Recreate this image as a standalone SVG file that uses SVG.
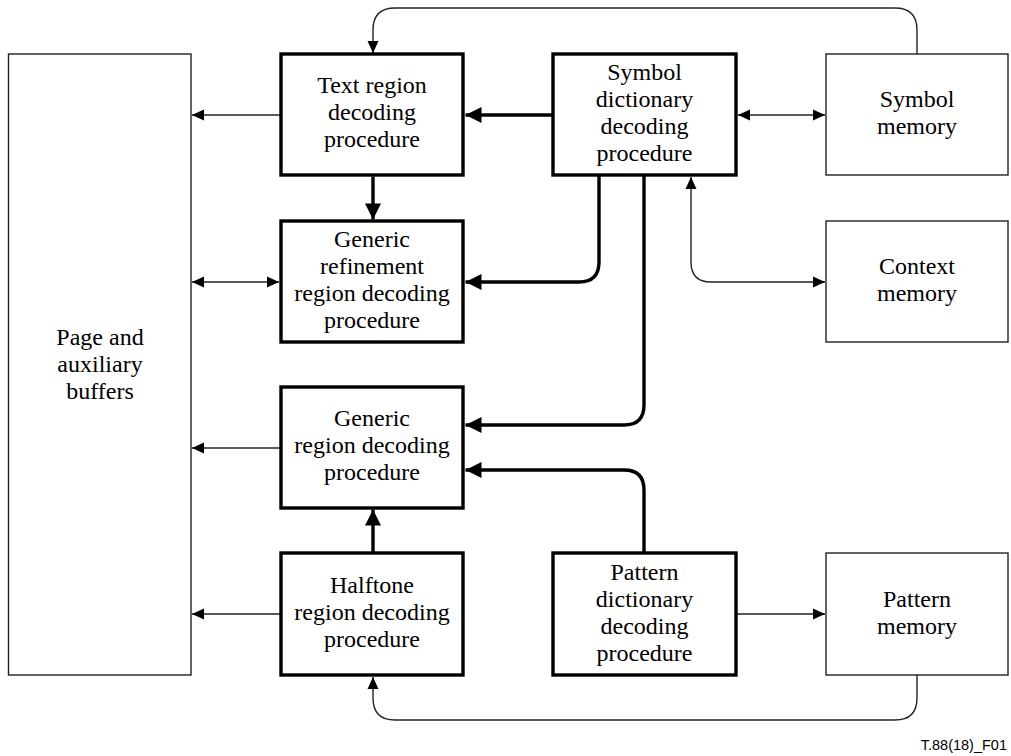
<svg xmlns="http://www.w3.org/2000/svg" width="1011" height="756" viewBox="0 0 1011 756">
<style>
.thick{fill:#fff;stroke:#000;stroke-width:3.4}
.thin{fill:#fff;stroke:#222;stroke-width:1.4}
.lbl{font-family:'Liberation Serif','DejaVu Serif',serif;font-size:24px;fill:#000;text-anchor:middle}
.cthin{fill:none;stroke:#222;stroke-width:1.4}
.cthick{fill:none;stroke:#000;stroke-width:3.4}
.foot{font-family:'Liberation Sans',Arial,sans-serif;font-size:14.5px;fill:#000;text-anchor:end}
</style>
<defs>
<marker id="at" markerUnits="userSpaceOnUse" viewBox="-17 -9 18 18" refX="0" refY="0" markerWidth="18" markerHeight="18" orient="auto-start-reverse">
<path d="M0,0 L-16,-8 L-16,8 Z" fill="#000"/>
</marker>
<marker id="an" markerUnits="userSpaceOnUse" viewBox="-13 -7 14 14" refX="0" refY="0" markerWidth="14" markerHeight="14" orient="auto-start-reverse">
<path d="M0,0 L-12,-5.5 L-12,5.5 Z" fill="#000"/>
</marker>
</defs>
<g id="connectors">
<path class="cthin" d="M917,54 V30 Q917,8 895,8 H395 Q373,8 373,30 V53" marker-end="url(#an)"/>
<path class="cthin" d="M281,115 H192" marker-end="url(#an)"/>
<path class="cthick" d="M553,115 H465.5" marker-end="url(#at)"/>
<path class="cthin" d="M738,115 H825" marker-start="url(#an)" marker-end="url(#an)"/>
<path class="cthick" d="M373,176.5 V219.5" marker-end="url(#at)"/>
<path class="cthin" d="M192,282 H279" marker-start="url(#an)" marker-end="url(#an)"/>
<path class="cthick" d="M599,176 V262 Q599,282 579,282 H465.5" marker-end="url(#at)"/>
<path class="cthick" d="M644,176 V405 Q644,425 624,425 H465.5" marker-end="url(#at)"/>
<path class="cthick" d="M644,552 V490 Q644,470 624,470 H465.5" marker-end="url(#at)"/>
<path class="cthin" d="M691,177 V262 Q691,282 711,282 H825" marker-start="url(#an)" marker-end="url(#an)"/>
<path class="cthin" d="M281,448 H192" marker-end="url(#an)"/>
<path class="cthick" d="M373,552 V509.5" marker-end="url(#at)"/>
<path class="cthin" d="M281,614 H192" marker-end="url(#an)"/>
<path class="cthin" d="M737,614 H825" marker-end="url(#an)"/>
<path class="cthin" d="M917,675 V698 Q917,720 895,720 H395 Q373,720 373,698 V677" marker-end="url(#an)"/>
</g>
<g id="page">
<rect class="thin" x="8.5" y="54" width="182.5" height="621"/>
<text class="lbl" x="100" y="345">Page and</text>
<text class="lbl" x="100" y="372">auxiliary</text>
<text class="lbl" x="100" y="399">buffers</text>
</g>
<g id="text-region">
<rect class="thick" x="281" y="54" width="182" height="121"/>
<text class="lbl" x="372" y="93">Text region</text>
<text class="lbl" x="372" y="120">decoding</text>
<text class="lbl" x="372" y="147">procedure</text>
</g>
<g id="refinement">
<rect class="thick" x="281" y="221" width="182" height="121"/>
<text class="lbl" x="372" y="247">Generic</text>
<text class="lbl" x="372" y="274">refinement</text>
<text class="lbl" x="372" y="301">region decoding</text>
<text class="lbl" x="372" y="328">procedure</text>
</g>
<g id="generic-region">
<rect class="thick" x="281" y="387" width="182" height="121"/>
<text class="lbl" x="372" y="426">Generic</text>
<text class="lbl" x="372" y="453">region decoding</text>
<text class="lbl" x="372" y="480">procedure</text>
</g>
<g id="halftone">
<rect class="thick" x="281" y="553" width="182" height="122"/>
<text class="lbl" x="372" y="593">Halftone</text>
<text class="lbl" x="372" y="620">region decoding</text>
<text class="lbl" x="372" y="647">procedure</text>
</g>
<g id="symbol-dict">
<rect class="thick" x="553" y="54" width="183" height="121"/>
<text class="lbl" x="644.5" y="80">Symbol</text>
<text class="lbl" x="644.5" y="107">dictionary</text>
<text class="lbl" x="644.5" y="134">decoding</text>
<text class="lbl" x="644.5" y="161">procedure</text>
</g>
<g id="pattern-dict">
<rect class="thick" x="553" y="553" width="183" height="122"/>
<text class="lbl" x="644.5" y="580">Pattern</text>
<text class="lbl" x="644.5" y="607">dictionary</text>
<text class="lbl" x="644.5" y="634">decoding</text>
<text class="lbl" x="644.5" y="661">procedure</text>
</g>
<g id="symbol-memory">
<rect class="thin" x="826" y="54" width="182" height="121"/>
<text class="lbl" x="917" y="107">Symbol</text>
<text class="lbl" x="917" y="134">memory</text>
</g>
<g id="context-memory">
<rect class="thin" x="826" y="221" width="182" height="121"/>
<text class="lbl" x="917" y="274">Context</text>
<text class="lbl" x="917" y="301">memory</text>
</g>
<g id="pattern-memory">
<rect class="thin" x="826" y="553" width="182" height="122"/>
<text class="lbl" x="917" y="607">Pattern</text>
<text class="lbl" x="917" y="634">memory</text>
</g>
<text class="foot" x="1007" y="750">T.88(18)_F01</text>
</svg>
